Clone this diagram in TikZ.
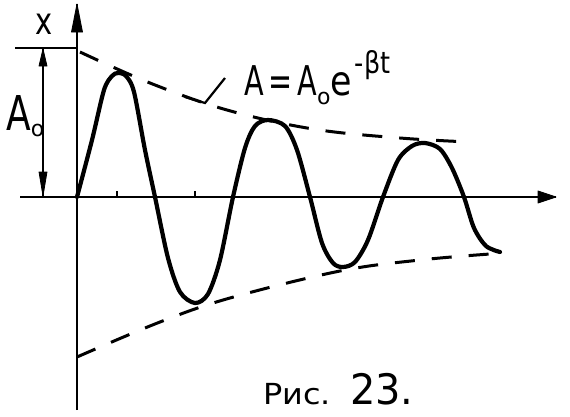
\documentclass[tikz,border=0pt]{standalone}
\usepackage{fontspec}
\setmainfont{DejaVu Sans}
\usetikzlibrary{arrows.meta}
\begin{document}
\begin{tikzpicture}[x=1pt,y=-1pt,
  axisline/.style={line width=2.5pt},
  curveline/.style={line width=4.2pt,line cap=round,line join=round},
  envline/.style={line width=3pt,dash pattern=on 20pt off 17pt},
  thinline/.style={line width=2.2pt},
  headfill/.style={fill=black,draw=black,line width=0.8pt,line join=round},
  lbl/.style={inner sep=0pt}]
\useasboundingbox (0,0) rectangle (570,416);
% axes
\coordinate (O) at (77,197);
\coordinate (ybot) at (77,410);
\coordinate (ytop) at (77,4);
\coordinate (xleft) at (20,197);
\coordinate (xright) at (556,197);
\draw[axisline] (ybot) -- (ytop);
\draw[axisline] (xleft) -- (xright);
\fill[headfill] (ytop) -- ++(5.5,28) -- ++(-11,0) -- cycle;
\fill[headfill] (xright) -- ++(-18,-6) -- ++(0,12) -- cycle;
% ticks
\coordinate (t1) at (117,197);
\coordinate (t2) at (195,197);
\draw[thinline] (t1) -- ++(0,-6);
\draw[thinline] (t2) -- ++(0,-6);
% A0 level line and dimension
\coordinate (lvlL) at (15,48);
\coordinate (lvlR) at (77,48);
\draw[thinline] (lvlL) -- (lvlR);
\coordinate (dimT) at (43,49);
\coordinate (dimB) at (43,196);
\draw[thinline] (dimT) -- (dimB);
\fill[headfill] (dimT) -- ++(4,17) -- ++(-8,0) -- cycle;
\fill[headfill] (dimB) -- ++(4,-24) -- ++(-8,0) -- cycle;
\node[lbl] (xl) at (44,24) {\scalebox{0.85}[1.1]{\fontsize{34}{34}\selectfont x}};
\node[lbl,anchor=base west] (a0) at (6,130) {\scalebox{0.75}[1]{\fontsize{48}{48}\selectfont A}\raisebox{-6pt}{\fontsize{22}{22}\selectfont o}};
% envelopes
\draw[envline] plot[smooth,tension=0.6] coordinates {(80,52) (150,83) (227,110) (313,129) (400,138) (470,142)};
\draw[envline] plot[smooth,tension=0.6] coordinates {(77,357) (160,322) (230,298) (340,271) (420,260) (490,254)};
% oscillation
\draw[curveline] plot[smooth,tension=0.5] coordinates {(77,197) (92,140) (104,90) (112,76) (118,73) (126,76) (134,92) (145,150) (155,197) (168,258) (180,292) (195,303) (208,294) (220,260) (233,197) (245,148) (255,126) (268,120) (285,126) (297,150) (310,197) (322,243) (333,263) (343,267) (355,262) (368,240) (383,197) (398,160) (412,146) (425,143) (440,149) (452,168) (464,197) (474,228) (486,246) (500,252)};
% formula label and leader
\node[lbl,anchor=base west] (form) at (244,95) {\fontsize{41}{41}\selectfont\scalebox{0.7}[1]{A\,=\,A}\raisebox{-9pt}{\fontsize{22}{22}\selectfont o}\scalebox{0.85}[1]{e}\hspace{3pt}\raisebox{22pt}{\scalebox{0.85}[1]{\fontsize{30}{30}\selectfont -βt}}};
\coordinate (ld1) at (225,78);
\coordinate (ld2) at (205,103);
\coordinate (ld3) at (185,97);
\draw[thinline] (ld1) -- (ld2) -- (ld3);
% caption
\node[lbl,anchor=base west] (cap1) at (263,404) {\scalebox{1.1}[1]{\fontsize{29}{29}\selectfont Рис.}};
\node[lbl,anchor=base west] (cap2) at (350,404) {\scalebox{0.95}[1]{\fontsize{42}{42}\selectfont 23.}};
\end{tikzpicture}
\end{document}
